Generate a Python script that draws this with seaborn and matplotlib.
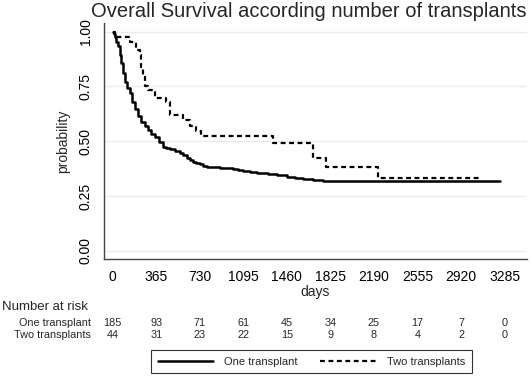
import numpy as np
import pandas as pd
import matplotlib
matplotlib.use("Agg")
import matplotlib.pyplot as plt
import matplotlib.transforms as mtransforms
import seaborn as sns

# ---------------------------------------------------------------------------
# Data (Kaplan-Meier step points)
# ---------------------------------------------------------------------------
one_days = [0, 8, 17, 30, 44, 58, 73, 87, 101, 120, 143, 165, 185, 210,
            241, 268, 296, 325, 352, 385, 422, 450, 478, 520, 562, 590,
            620, 645, 671, 700, 730, 760, 789, 840, 900, 950, 1007, 1050,
            1091, 1150, 1208, 1300, 1380, 1460, 1530, 1594, 1680, 1762,
            3247]
one_surv = [1.0, 0.99, 0.975, 0.955, 0.935, 0.895, 0.856, 0.81, 0.772,
            0.745, 0.72, 0.68, 0.645, 0.615, 0.589, 0.57, 0.551, 0.535,
            0.52, 0.498, 0.475, 0.47, 0.465, 0.455, 0.445, 0.435, 0.425,
            0.415, 0.405, 0.4, 0.395, 0.388, 0.382, 0.38, 0.378, 0.376,
            0.373, 0.37, 0.365, 0.36, 0.355, 0.35, 0.345, 0.338, 0.332,
            0.327, 0.323, 0.318, 0.318]

two_days = [0, 17, 143, 199, 226, 240, 254, 275, 296, 352, 450, 478, 590,
            650, 700, 740, 1342, 1678, 1787, 2223, 3079]
two_surv = [1.0, 0.977, 0.955, 0.916, 0.894, 0.841, 0.794, 0.75, 0.734,
            0.696, 0.68, 0.62, 0.598, 0.57, 0.545, 0.523, 0.493, 0.423,
            0.384, 0.333, 0.333]

x_ticks = [0, 365, 730, 1095, 1460, 1825, 2190, 2555, 2920, 3285]
y_ticks = [0.0, 0.25, 0.5, 0.75, 1.0]
risk_one = [185, 93, 71, 61, 45, 34, 25, 17, 7, 0]
risk_two = [44, 31, 23, 22, 15, 9, 8, 4, 2, 0]

FONT = ['Liberation Sans', 'DejaVu Sans']

# ---------------------------------------------------------------------------
# Figure
# ---------------------------------------------------------------------------
sns.set_theme(style="white")
plt.rcParams['font.family'] = FONT

fig = plt.figure(figsize=(5.32, 3.77), dpi=100)
ax = fig.add_axes([0.195, 0.313, 0.796, 0.626])

df_one = pd.DataFrame({'days': one_days, 'surv': one_surv})
df_two = pd.DataFrame({'days': two_days, 'surv': two_surv})

sns.lineplot(data=df_one, x='days', y='surv', ax=ax, color='black',
             linewidth=1.8, drawstyle='steps-post', label='One transplant')
sns.lineplot(data=df_two, x='days', y='surv', ax=ax, color='black',
             linewidth=1.6, drawstyle='steps-post', linestyle=(0, (2.2, 1.6)),
             label='Two transplants')

ax.set_xlim(-75, 3475)
ax.set_ylim(-0.038, 1.04)
ax.set_xticks(x_ticks)
ax.set_yticks(y_ticks)
ax.set_yticklabels([f'{v:.2f}' for v in y_ticks], rotation=90, va='center')
ax.tick_params(axis='both', direction='out', length=5, width=0.9,
               color='#444444', labelsize=10, pad=3, labelcolor='black')
ax.grid(axis='y', color='#e6eded', linewidth=1.0)
ax.set_axisbelow(True)
for side in ['top', 'right']:
    ax.spines[side].set_visible(False)
for side in ['left', 'bottom']:
    ax.spines[side].set_color('#444444')
    ax.spines[side].set_linewidth(1.0)

ax.set_xlabel('days', fontsize=10, labelpad=1)
ax.set_ylabel('probability', fontsize=10, labelpad=6)
ax.set_title('Overall Survival according number of transplants',
             fontsize=14.5, pad=4, x=0.485)

# Number at risk table
trans = mtransforms.blended_transform_factory(ax.transData, fig.transFigure)
fig.text(0.004, 0.186, 'Number at risk', fontsize=9.5, va='center', ha='left')
fig.text(0.171, 0.143, 'One transplant', fontsize=7.8, va='center', ha='right')
fig.text(0.171, 0.111, 'Two transplants', fontsize=7.8, va='center', ha='right')
for xv, n1, n2 in zip(x_ticks, risk_one, risk_two):
    ax.text(xv, 0.143, str(n1), transform=trans, fontsize=7.8,
            ha='center', va='center')
    ax.text(xv, 0.111, str(n2), transform=trans, fontsize=7.8,
            ha='center', va='center')

# Legend
ax.get_legend().remove()
handles, labels = ax.get_legend_handles_labels()
leg = fig.legend(handles, labels, loc='center', bbox_to_anchor=(0.585, 0.041),
                 ncol=2, fontsize=8, frameon=True, fancybox=False,
                 edgecolor='black', handlelength=5.0, columnspacing=2.0,
                 borderpad=0.6, handletextpad=1.0)
leg.get_frame().set_linewidth(0.8)

fig.savefig('out.png', dpi=100)
